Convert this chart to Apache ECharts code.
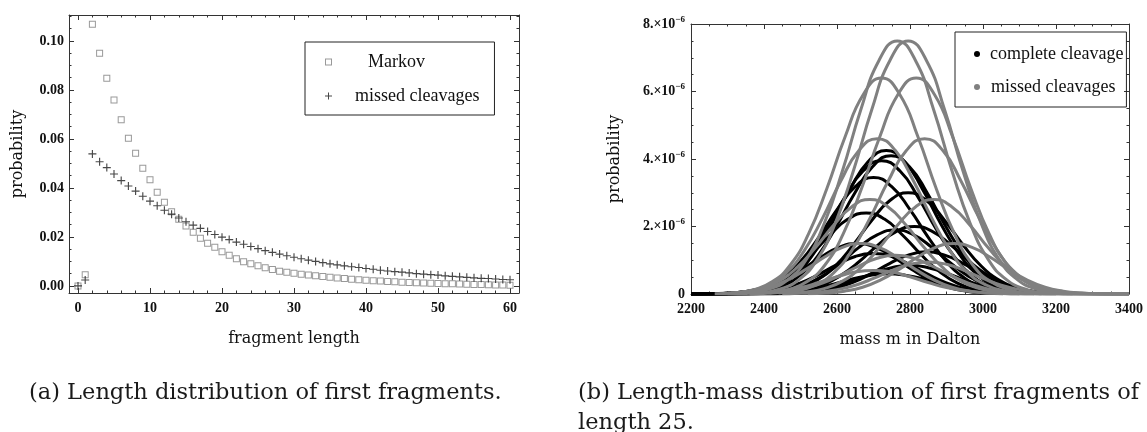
<!DOCTYPE html>
<html><head><meta charset="utf-8">
<script src="https://cdn.jsdelivr.net/npm/echarts@6/dist/echarts.min.js"></script>
<style>html,body{margin:0;padding:0;background:#fff}#c{width:1147px;height:432px}</style>
</head><body><div id="c"></div>
<script>
// ---------- (a) length distribution ----------
const fragmentLength = [0,1,2,3,4,5,6,7,8,9,10,11,12,13,14,15,16,17,18,19,20,21,22,23,24,25,26,27,28,29,30,
  31,32,33,34,35,36,37,38,39,40,41,42,43,44,45,46,47,48,49,50,51,52,53,54,55,56,57,58,59,60];
const markovProb = [0.0000,0.0046,0.1068,0.0950,0.0848,0.0759,0.0678,0.0603,0.0542,0.0480,0.0433,
  0.0382,0.0342,0.0303,0.0272,0.0245,0.0219,0.0195,0.0174,0.0158,0.0139,
  0.0125,0.0111,0.0099,0.0090,0.0082,0.0074,0.0067,0.0060,0.0056,0.0052,
  0.0048,0.0044,0.0041,0.0038,0.0035,0.0032,0.0030,0.0027,0.0025,0.0023,
  0.0021,0.0020,0.0018,0.0017,0.0015,0.0014,0.0013,0.0012,0.0011,0.0010,
  0.0009,0.0009,0.0008,0.0007,0.0006,0.0006,0.0005,0.0004,0.0004,0.0003];
const missedProb = [0.0000,0.0024,0.0539,0.0507,0.0483,0.0457,0.0430,0.0408,0.0387,0.0366,0.0346,
  0.0327,0.0309,0.0293,0.0277,0.0262,0.0248,0.0235,0.0222,0.0210,0.0199,
  0.0189,0.0179,0.0170,0.0161,0.0152,0.0144,0.0137,0.0130,0.0123,0.0117,
  0.0111,0.0105,0.0100,0.0095,0.0090,0.0086,0.0082,0.0078,0.0075,0.0071,
  0.0068,0.0064,0.0061,0.0058,0.0056,0.0053,0.0050,0.0048,0.0046,0.0044,
  0.0041,0.0039,0.0037,0.0035,0.0033,0.0031,0.0030,0.0028,0.0026,0.0025];
const lengthTicks = [0,10,20,30,40,50,60];
const lengthMinorTicks = [2,4,6,8,12,14,16,18,22,24,26,28,32,34,36,38,42,44,46,48,52,54,56,58];
const probTicksA = [0,0.02,0.04,0.06,0.08,0.10];
const probMinorTicksA = [0.005,0.01,0.015,0.025,0.03,0.035,0.045,0.05,0.055,0.065,0.07,0.075,0.085,0.09,0.095,0.105,0.11];

// ---------- (b) length-mass distribution (probability in units of 1e-6) ----------
const completeCleavageCurves = [
  [[2200,0],[2335,.026],[2385,.085],[2435,.24],[2485,.57],[2535,1.18],[2585,2.07],[2635,3.09],[2685,3.92],[2735,4.25],[2785,3.92],[2835,3.09],[2885,2.07],[2935,1.18],[2985,.57],[3035,.24],[3085,.085],[3135,.026]],
  [[2200,0],[2348,.025],[2398,.082],[2448,.23],[2498,.55],[2548,1.14],[2598,2.0],[2648,2.98],[2698,3.78],[2748,4.1],[2798,3.78],[2848,2.98],[2898,2.0],[2948,1.14],[2998,.55],[3048,.23],[3098,.082],[3148,.025]],
  [[2200,0],[2322,.024],[2372,.079],[2422,.22],[2472,.53],[2522,1.10],[2572,1.92],[2622,2.87],[2672,3.65],[2722,3.95],[2772,3.65],[2822,2.87],[2872,1.92],[2922,1.10],[2972,.53],[3022,.22],[3072,.079],[3122,.024]],
  [[2200,0],[2300,.021],[2350,.069],[2400,.19],[2450,.47],[2500,.96],[2550,1.68],[2600,2.5],[2650,3.18],[2700,3.45],[2750,3.18],[2800,2.5],[2850,1.68],[2900,.96],[2950,.47],[3000,.19],[3050,.069],[3100,.021]],
  [[2200,0],[2395,.018],[2445,.06],[2495,.17],[2545,.41],[2595,.83],[2645,1.46],[2695,2.18],[2745,2.77],[2795,3.0],[2845,2.77],[2895,2.18],[2945,1.46],[2995,.83],[3045,.41],[3095,.17],[3145,.06],[3195,.018]],
  [[2200,0],[2280,.014],[2330,.048],[2380,.13],[2430,.32],[2480,.67],[2530,1.17],[2580,1.74],[2630,2.22],[2680,2.4],[2730,2.22],[2780,1.74],[2830,1.17],[2880,.67],[2930,.32],[2980,.13],[3030,.048],[3080,.014]],
  [[2200,0],[2412,.012],[2462,.04],[2512,.11],[2562,.27],[2612,.56],[2662,.97],[2712,1.45],[2762,1.85],[2812,2.0],[2862,1.85],[2912,1.45],[2962,.97],[3012,.56],[3062,.27],[3112,.11],[3162,.04],[3212,.012]],
  [[2200,0],[2255,.009],[2305,.03],[2355,.084],[2405,.2],[2455,.42],[2505,.73],[2555,1.09],[2605,1.38],[2655,1.5],[2705,1.38],[2755,1.09],[2805,.73],[2855,.42],[2905,.2],[2955,.084],[3005,.03],[3055,.009]],
  [[2200,0],[2360,.011],[2410,.038],[2460,.11],[2510,.26],[2560,.53],[2610,.93],[2660,1.38],[2710,1.75],[2760,1.9],[2810,1.75],[2860,1.38],[2910,.93],[2960,.53],[3010,.26],[3060,.11],[3110,.038],[3160,.011]],
  [[2200,0],[2445,.008],[2495,.025],[2545,.07],[2595,.17],[2645,.35],[2695,.61],[2745,.91],[2795,1.15],[2845,1.25],[2895,1.15],[2945,.91],[2995,.61],[3045,.35],[3095,.17],[3145,.07],[3195,.025],[3245,.008]],
  [[2200,0],[2300,.007],[2350,.024],[2400,.067],[2450,.16],[2500,.33],[2550,.58],[2600,.87],[2650,1.11],[2700,1.2],[2750,1.11],[2800,.87],[2850,.58],[2900,.33],[2950,.16],[3000,.067],[3050,.024],[3100,.007]],
  [[2200,0],[2400,.005],[2450,.017],[2500,.048],[2550,.11],[2600,.24],[2650,.41],[2700,.62],[2750,.78],[2800,.85],[2850,.78],[2900,.62],[2950,.41],[3000,.24],[3050,.11],[3100,.048],[3150,.017],[3200,.005]],
  [[2200,0],[2340,.004],[2390,.012],[2440,.034],[2490,.08],[2540,.17],[2590,.29],[2640,.44],[2690,.55],[2740,.6],[2790,.55],[2840,.44],[2890,.29],[2940,.17],[2990,.08],[3040,.034],[3090,.012],[3140,.004]]
];
const missedCleavageCurves = [
  [[2365,.045],[2415,.15],[2465,.42],[2515,1.01],[2565,2.09],[2615,3.65],[2665,5.45],[2715,6.92],[2765,7.5],[2815,6.92],[2865,5.45],[2915,3.65],[2965,2.09],[3015,1.01],[3065,.42],[3115,.15],[3165,.045],[3400,0]],
  [[2395,.045],[2445,.15],[2495,.42],[2545,1.01],[2595,2.09],[2645,3.65],[2695,5.45],[2745,6.92],[2795,7.5],[2845,6.92],[2895,5.45],[2945,3.65],[2995,2.09],[3045,1.01],[3095,.42],[3145,.15],[3195,.045],[3400,0]],
  [[2322,.038],[2372,.13],[2422,.36],[2472,.86],[2522,1.78],[2572,3.12],[2622,4.65],[2672,5.91],[2722,6.4],[2772,5.91],[2822,4.65],[2872,3.12],[2922,1.78],[2972,.86],[3022,.36],[3072,.13],[3122,.038],[3400,0]],
  [[2417,.038],[2467,.13],[2517,.36],[2567,.86],[2617,1.78],[2667,3.12],[2717,4.65],[2767,5.91],[2817,6.4],[2867,5.91],[2917,4.65],[2967,3.12],[3017,1.78],[3067,.86],[3117,.36],[3167,.13],[3217,.038],[3400,0]],
  [[2310,.028],[2360,.092],[2410,.26],[2460,.62],[2510,1.28],[2560,2.24],[2610,3.34],[2660,4.25],[2710,4.6],[2760,4.25],[2810,3.34],[2860,2.24],[2910,1.28],[2960,.62],[3010,.26],[3060,.092],[3110,.028],[3400,0]],
  [[2440,.028],[2490,.092],[2540,.26],[2590,.62],[2640,1.28],[2690,2.24],[2740,3.34],[2790,4.25],[2840,4.6],[2890,4.25],[2940,3.34],[2990,2.24],[3040,1.28],[3090,.62],[3140,.26],[3190,.092],[3240,.028],[3400,0]],
  [[2290,.017],[2340,.056],[2390,.16],[2440,.38],[2490,.78],[2540,1.36],[2590,2.03],[2640,2.58],[2690,2.8],[2740,2.58],[2790,2.03],[2840,1.36],[2890,.78],[2940,.38],[2990,.16],[3040,.056],[3090,.017],[3400,0]],
  [[2465,.017],[2515,.056],[2565,.16],[2615,.38],[2665,.78],[2715,1.36],[2765,2.03],[2815,2.58],[2865,2.8],[2915,2.58],[2965,2.03],[3015,1.36],[3065,.78],[3115,.38],[3165,.16],[3215,.056],[3265,.017],[3400,0]],
  [[2265,.009],[2315,.03],[2365,.084],[2415,.2],[2465,.42],[2515,.73],[2565,1.09],[2615,1.38],[2665,1.5],[2715,1.38],[2765,1.09],[2815,.73],[2865,.42],[2915,.2],[2965,.084],[3015,.03],[3065,.009],[3400,0]],
  [[2520,.009],[2570,.03],[2620,.084],[2670,.2],[2720,.42],[2770,.73],[2820,1.09],[2870,1.38],[2920,1.5],[2970,1.38],[3020,1.09],[3070,.73],[3120,.42],[3170,.2],[3220,.084],[3270,.03],[3320,.009],[3400,0]],
  [[2360,.007],[2410,.023],[2460,.064],[2510,.16],[2560,.32],[2610,.56],[2660,.83],[2710,1.06],[2760,1.15],[2810,1.06],[2860,.83],[2910,.56],[2960,.32],[3010,.16],[3060,.064],[3110,.023],[3160,.007],[3400,0]],
  [[2450,.006],[2500,.019],[2550,.053],[2600,.13],[2650,.26],[2700,.46],[2750,.69],[2800,.88],[2850,.95],[2900,.88],[2950,.69],[3000,.46],[3050,.26],[3100,.13],[3150,.053],[3200,.019],[3250,.006],[3400,0]],
  [[2300,.004],[2350,.014],[2400,.039],[2450,.095],[2500,.19],[2550,.34],[2600,.51],[2650,.65],[2700,.7],[2750,.65],[2800,.51],[2850,.34],[2900,.19],[2950,.095],[3000,.039],[3050,.014],[3100,.004],[3400,0]]
];
const massRange = [2200, 3400];
const massInterval = 200;
const probRangeB = [0, 8];
const probIntervalB = 2;

const captionA = '(a) Length distribution of first fragments.';
const captionB = '(b) Length-mass distribution of first fragments of\nlength 25.';

// ---------- styling ----------
const axisColor = '#333';
const textColor = '#111';
const tickFont = {fontFamily: 'Liberation Serif', fontSize: 14, fontWeight: 'bold', color: textColor};
const nameFont = {fontFamily: 'DejaVu Serif', fontSize: 16, color: textColor};
const captionFont = {fontFamily: 'DejaVu Serif', fontSize: 22.5, fontWeight: 'normal', color: '#1a1a1a', lineHeight: 30};
const squareIcon = 'path://M0,0H7V7H0ZM1,1V6H6V1Z';
const plusIcon = 'path://M3,0H4V3H7V4H4V7H3V4H0V3H3Z';

function mkAxis(o) {
  const base = {
    type: 'value', splitLine: {show: false},
    axisLine: {show: o.line !== false, onZero: false, lineStyle: {color: axisColor, width: 1}},
    axisTick: {show: true, inside: true, length: o.tickLen || 5, lineStyle: {color: axisColor}},
    axisLabel: {show: false}
  };
  if (o.ticks) base.axisTick.customValues = o.ticks;
  if (o.labels) base.axisLabel = Object.assign({show: true, customValues: o.labels, margin: o.margin}, tickFont, o.labelExtra || {});
  return Object.assign(base, o.extra || {});
}

const xAxes = [
  Object.assign(mkAxis({ticks: lengthTicks, labels: lengthTicks, margin: 8, labelExtra: {formatter: v => String(v)}}),
    {gridIndex: 0, position: 'bottom', min: -1.25, max: 61.25,
     name: 'fragment length', nameLocation: 'middle', nameGap: 38, nameTextStyle: nameFont}),
  Object.assign(mkAxis({ticks: lengthMinorTicks, tickLen: 2.5, line: false}), {gridIndex: 0, position: 'bottom', min: -1.25, max: 61.25}),
  Object.assign(mkAxis({ticks: lengthTicks}), {gridIndex: 0, position: 'top', min: -1.25, max: 61.25}),
  Object.assign(mkAxis({ticks: lengthMinorTicks, tickLen: 2.5, line: false}), {gridIndex: 0, position: 'top', min: -1.25, max: 61.25}),
  {gridIndex: 1, type: 'value', position: 'bottom', min: massRange[0], max: massRange[1], interval: massInterval,
    splitLine: {show: false},
    axisLine: {onZero: false, lineStyle: {color: axisColor}},
    axisTick: {inside: true, length: 5, lineStyle: {color: axisColor}},
    minorTick: {show: true, splitNumber: 4, length: 2.5, lineStyle: {color: axisColor}},
    axisLabel: Object.assign({margin: 8, formatter: v => String(v)}, tickFont),
    name: 'mass m in Dalton', nameLocation: 'middle', nameGap: 38, nameTextStyle: nameFont},
  {gridIndex: 1, type: 'value', position: 'top', min: massRange[0], max: massRange[1], interval: massInterval,
    splitLine: {show: false},
    axisLine: {onZero: false, lineStyle: {color: axisColor}},
    axisTick: {inside: true, length: 5, lineStyle: {color: axisColor}},
    minorTick: {show: true, splitNumber: 4, length: 2.5, lineStyle: {color: axisColor}},
    axisLabel: {show: false}}
];
const yAxes = [
  Object.assign(mkAxis({ticks: probTicksA, labels: probTicksA, margin: 5, labelExtra: {formatter: v => v.toFixed(2)}}),
    {gridIndex: 0, position: 'left', min: -0.0029, max: 0.1106,
     name: 'probability', nameLocation: 'middle', nameGap: 43, nameTextStyle: nameFont}),
  Object.assign(mkAxis({ticks: probMinorTicksA, tickLen: 2.5, line: false}), {gridIndex: 0, position: 'left', min: -0.0029, max: 0.1106}),
  Object.assign(mkAxis({ticks: probTicksA}), {gridIndex: 0, position: 'right', min: -0.0029, max: 0.1106}),
  Object.assign(mkAxis({ticks: probMinorTicksA, tickLen: 2.5, line: false}), {gridIndex: 0, position: 'right', min: -0.0029, max: 0.1106}),
  {gridIndex: 1, type: 'value', position: 'left', min: probRangeB[0], max: probRangeB[1], interval: probIntervalB,
    splitLine: {show: false},
    axisLine: {onZero: false, lineStyle: {color: axisColor}},
    axisTick: {inside: true, length: 5, lineStyle: {color: axisColor}},
    minorTick: {show: true, splitNumber: 4, length: 2.5, lineStyle: {color: axisColor}},
    axisLabel: {margin: 6, formatter: v => v === 0 ? '{m|0}' : '{m|' + v + '.×10}{e|−6}',
      rich: {m: Object.assign({}, tickFont), e: {fontFamily: 'Liberation Serif', fontSize: 9, fontWeight: 'bold', color: textColor, padding: [0, 0, 9, 0]}}},
    name: 'probability', nameLocation: 'middle', nameGap: 68, nameTextStyle: nameFont},
  {gridIndex: 1, type: 'value', position: 'right', min: probRangeB[0], max: probRangeB[1], interval: probIntervalB,
    splitLine: {show: false},
    axisLine: {onZero: false, lineStyle: {color: axisColor}},
    axisTick: {inside: true, length: 5, lineStyle: {color: axisColor}},
    minorTick: {show: true, splitNumber: 4, length: 2.5, lineStyle: {color: axisColor}},
    axisLabel: {show: false}}
];

const series = [
  {type: 'scatter', name: 'Markov', xAxisIndex: 0, yAxisIndex: 0, symbol: squareIcon, symbolSize: 7,
   itemStyle: {color: '#808080'}, data: fragmentLength.map((x, i) => [x, markovProb[i]]), z: 3},
  {type: 'scatter', name: 'missed cleavages', xAxisIndex: 0, yAxisIndex: 0, symbol: plusIcon, symbolSize: 8,
   itemStyle: {color: '#1a1a1a'}, data: fragmentLength.map((x, i) => [x, missedProb[i]]), z: 4}
];
completeCleavageCurves.forEach(c => series.push({type: 'line', name: 'complete cleavage', xAxisIndex: 4, yAxisIndex: 4,
  data: c, smooth: true, showSymbol: false, symbol: 'none', lineStyle: {color: '#000', width: 3}, itemStyle: {color: '#000'}, z: 2}));
missedCleavageCurves.forEach(c => series.push({type: 'line', name: 'missed cleavages (b)', xAxisIndex: 4, yAxisIndex: 4,
  data: c, smooth: true, showSymbol: false, symbol: 'none', lineStyle: {color: '#808080', width: 3}, itemStyle: {color: '#808080'}, z: 3}));

const legendText = {fontFamily: 'Liberation Serif', fontSize: 18, color: textColor, lineHeight: 18};
const option = {
  backgroundColor: '#fff',
  animation: false,
  grid: [
    {left: 69, top: 15, width: 450, height: 278},
    {left: 691, top: 24, width: 438, height: 270}
  ],
  xAxis: xAxes,
  yAxis: yAxes,
  legend: [
    {orient: 'vertical', left: 305, top: 42, padding: [11, 15, 10, 20], itemGap: 16, itemWidth: 7, itemHeight: 7,
     borderColor: '#222', borderWidth: 1, selectedMode: false,
     data: [{name: 'Markov', icon: squareIcon, itemStyle: {color: '#808080'}},
            {name: 'missed cleavages', icon: plusIcon, itemStyle: {color: '#1a1a1a'}}],
     formatter: n => n === 'Markov' ? '{a|Markov}' : '{b|missed cleavages}',
     textStyle: Object.assign({rich: {a: Object.assign({padding: [0, 0, 0, 31]}, legendText), b: Object.assign({padding: [0, 0, 0, 18]}, legendText)}}, legendText)},
    {orient: 'vertical', left: 955, top: 32, padding: [13, 3, 11, 19], itemGap: 15, itemWidth: 6, itemHeight: 6,
     borderColor: '#222', borderWidth: 1, selectedMode: false,
     data: [{name: 'complete cleavage', icon: 'circle', itemStyle: {color: '#000'}},
            {name: 'missed cleavages (b)', icon: 'circle', itemStyle: {color: '#808080'}}],
     formatter: n => n === 'complete cleavage' ? '{a|complete cleavage}' : '{b|missed cleavages}',
     textStyle: Object.assign({rich: {a: Object.assign({padding: [0, 0, 0, 5]}, legendText), b: Object.assign({padding: [0, 0, 0, 6]}, legendText)}}, legendText)}
  ],
  title: [
    {text: captionA, left: 29, top: 378, padding: 0, textStyle: captionFont},
    {text: captionB, left: 578, top: 378, padding: 0, textStyle: captionFont}
  ],
  series: series
};
const chart = echarts.init(document.getElementById('c'), null, {renderer: 'canvas'});
chart.setOption(option);
</script>
</body></html>
